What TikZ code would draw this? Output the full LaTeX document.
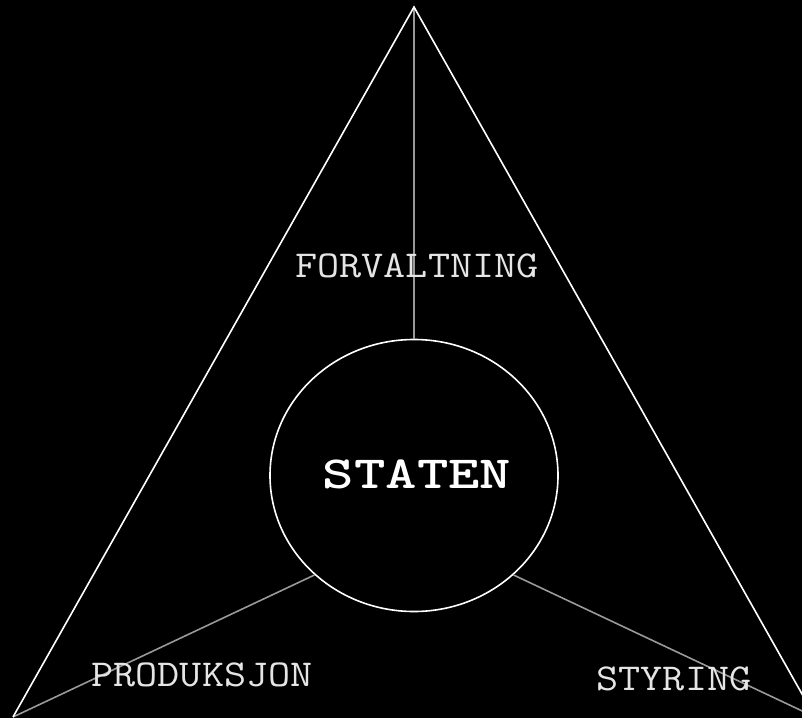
\documentclass[tikz,border=0pt]{standalone}
\usepackage{fontspec}
\usetikzlibrary{shapes.geometric}
\newcommand{\widetxt}[1]{\scalebox{1.13}[1]{#1}}
\tikzset{
  edge/.style={draw=white, line width=1.6pt},
  spoke/.style={draw=black!40!white, line width=1.6pt},
  lbl/.style={text=black!10!white, font=\ttfamily\fontsize{38}{42}\selectfont, anchor=base, inner sep=0pt},
  title/.style={text=white, font=\ttfamily\bfseries\fontsize{46}{50}\selectfont, anchor=base, inner sep=0pt},
}
\begin{document}
\begin{tikzpicture}[x=1pt,y=-1pt]
\fill[black] (0,0) rectangle (802,718);
\useasboundingbox (0,0) rectangle (802,718);
\clip (0,0) rectangle (802,718);
\coordinate (A) at (414,7);
\coordinate (L) at (13,717);
\coordinate (R) at (815,717);
\node[ellipse, draw=white, line width=1.6pt, minimum width=288pt, minimum height=272pt, inner sep=0pt] (E) at (414,475.5) {};
\draw[spoke] (A) -- (E.north);
\draw[spoke] (L) -- (E.225);
\draw[spoke] (R) -- (E.-45);
\draw[edge, line join=miter] (L) -- (A) -- (R);
\node[lbl] (F) at (417,277) {\widetxt{FORVALTNING}};
\node[lbl] (P) at (202,686) {\widetxt{PRODUKSJON}};
\node[lbl] (S) at (674,690) {\widetxt{STYRING}};
\node[title] (T) at (417,488) {\scalebox{1.3}[1]{STATEN}};
\end{tikzpicture}
\end{document}
